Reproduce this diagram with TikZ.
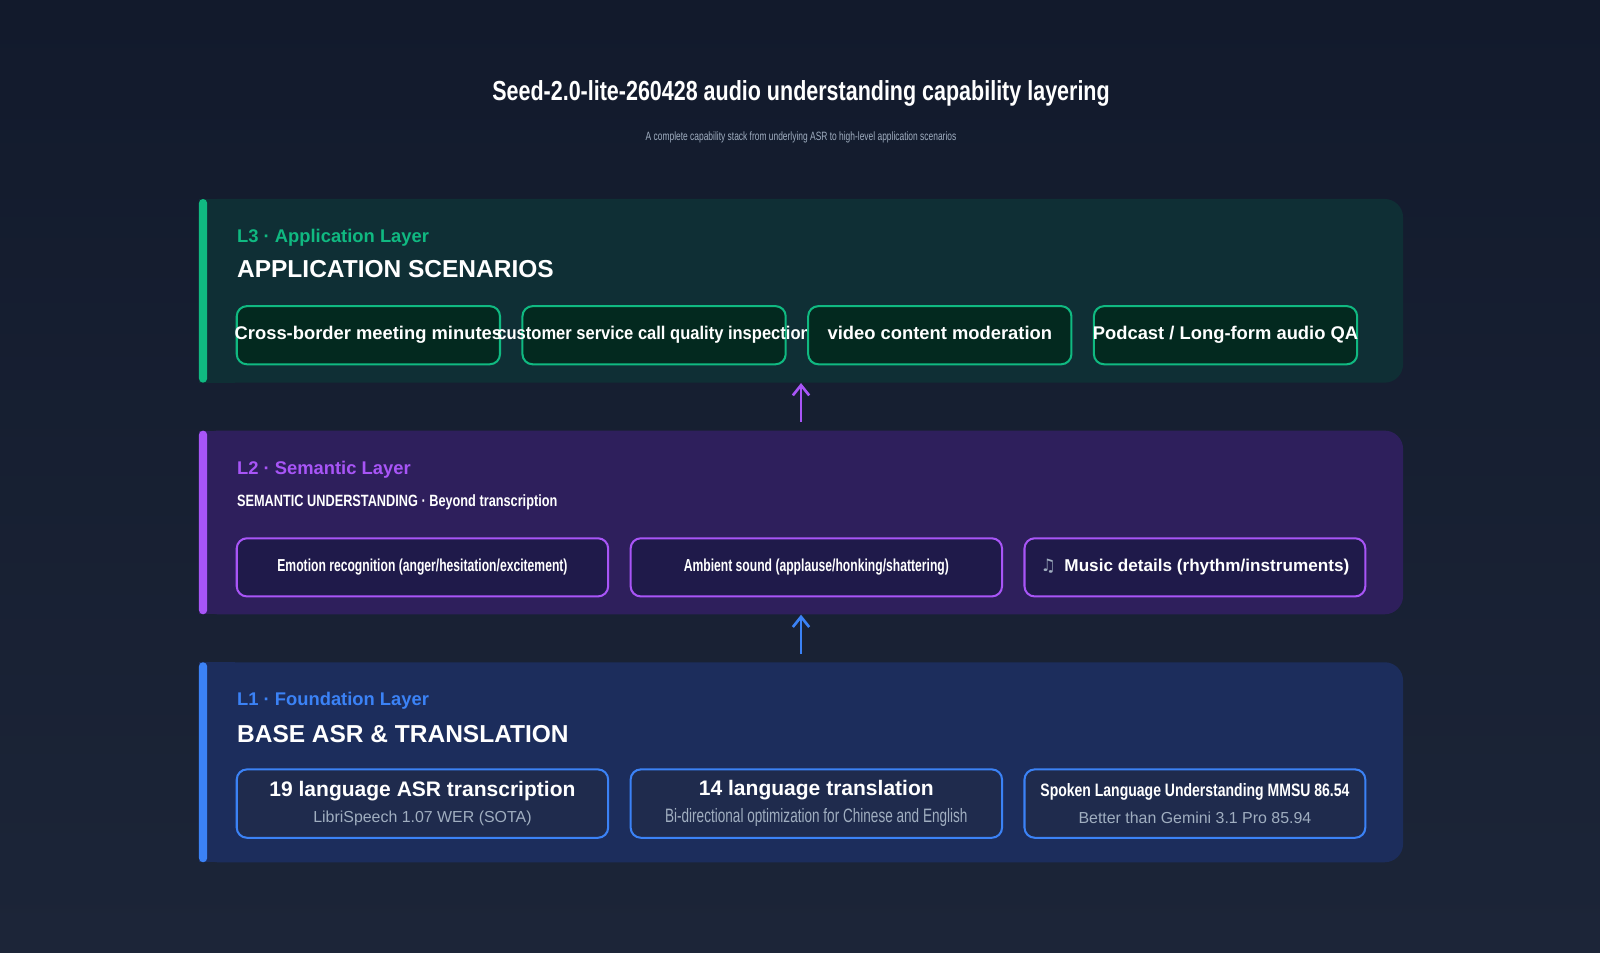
\documentclass[tikz,border=0pt]{standalone}
\usepackage{fontspec}
\setmainfont{Liberation Sans}
\newfontfamily\narrowfont[FakeStretch=0.78]{Liberation Sans}
\newfontfamily\tightfont[FakeStretch=0.70]{Liberation Sans}
\newfontfamily\slimfont[FakeStretch=0.90]{Liberation Sans}
\newfontfamily\symfont{DejaVu Sans}
\usetikzlibrary{positioning,arrows.meta}

\definecolor{bgA}{HTML}{121A2C}
\definecolor{bgB}{HTML}{1C2538}
\definecolor{appgreen}{HTML}{10B981}
\definecolor{sempurple}{HTML}{A855F7}
\definecolor{basblue}{HTML}{3B82F6}
\definecolor{appfill}{HTML}{0F2F35}
\definecolor{semfill}{HTML}{2E1F5C}
\definecolor{basfill}{HTML}{1C2D5C}
\definecolor{appbox}{HTML}{03291F}
\definecolor{sembox}{HTML}{1F1A4A}
\definecolor{basbox}{HTML}{1F2B4D}
\definecolor{subgray}{HTML}{A0AEC0}

\tikzset{
  panel/.style={rounded corners=9pt, minimum width=590pt, inner sep=0pt},
  tag/.style={anchor=west, inner sep=0pt, font=\bfseries\fontsize{9pt}{10pt}\selectfont},
  head/.style={anchor=west, inner sep=0pt, text=white},
  card/.style={rounded corners=5pt, line width=1pt, inner sep=0pt, text=white, align=center},
  upline/.style={line width=1.3pt, shorten <=4pt, -{Straight Barb[length=5pt,width=8pt]}}
}

\begin{document}
\begin{tikzpicture}[x=0.5pt,y=-0.5pt]
  \shade[top color=bgA, bottom color=bgB] (0,0) rectangle (1568,933);
  \useasboundingbox (0,0) rectangle (1568,933);

  % title
  \node[text=white, font=\narrowfont\bfseries\fontsize{13.5pt}{15pt}\selectfont] (title) at (785,92) {Seed-2.0-lite-260428 audio understanding capability layering};
  \node[text=subgray, font=\tightfont\fontsize{5.9pt}{6pt}\selectfont] (subtitle) at (785,135) {A complete capability stack from underlying ASR to high-level application scenarios};

  % L3 application layer
  \node[panel, fill=appfill, minimum height=90pt] (l3) at (785,285) {};
  \fill[appfill] (195,195) rectangle (230,375);
  \fill[appgreen, rounded corners=2pt] (195,195) rectangle (203,375);
  \node[tag, text=appgreen] (l3tag) at (232,233) {L3 · Application Layer};
  \node[head, font=\bfseries\fontsize{12pt}{13pt}\selectfont] (l3head) at (232,264) {APPLICATION SCENARIOS};
  \foreach \x/\t [count=\i] in {361/{Cross-border meeting minutes}, 641/{\slimfont customer service call quality inspection}, 921/{video content moderation}, 1201/{Podcast / Long-form audio QA}}
    \node[card, draw=appgreen, fill=appbox, minimum width=129pt, minimum height=28.5pt, font=\bfseries\fontsize{9pt}{10pt}\selectfont] (app\i) at (\x,328.5) {\makebox[0pt]{\strut\t}};

  % L2 semantic layer
  \node[panel, fill=semfill, minimum height=90pt] (l2) at (785,512) {};
  \fill[semfill] (195,422) rectangle (230,602);
  \fill[sempurple, rounded corners=2pt] (195,422) rectangle (203,602);
  \node[tag, text=sempurple] (l2tag) at (232,460) {L2 · Semantic Layer};
  \node[head, font=\narrowfont\bfseries\fontsize{8pt}{9pt}\selectfont] (l2head) at (232,492) {SEMANTIC UNDERSTANDING · Beyond transcription};
  \node[card, draw=sempurple, fill=sembox, minimum width=182pt, minimum height=28.5pt, font=\tightfont\bfseries\fontsize{8.5pt}{9pt}\selectfont] (sem1) at (414,556) {Emotion recognition (anger/hesitation/excitement)};
  \node[card, draw=sempurple, fill=sembox, minimum width=182pt, minimum height=28.5pt, font=\tightfont\bfseries\fontsize{8.5pt}{9pt}\selectfont] (sem2) at (800,556) {Ambient sound (applause/honking/shattering)};
  \node[card, draw=sempurple, fill=sembox, minimum width=167pt, minimum height=28.5pt, font=\bfseries\fontsize{8.4pt}{9pt}\selectfont] (sem3) at (1171,556) {{\symfont\color{subgray}♫}\enspace Music details (rhythm/instruments)};

  % L1 foundation layer
  \node[panel, fill=basfill, minimum height=98pt] (l1) at (785,747) {};
  \fill[basfill] (195,649) rectangle (230,845);
  \fill[basblue, rounded corners=2pt] (195,649) rectangle (203,845);
  \node[tag, text=basblue] (l1tag) at (232,687) {L1 · Foundation Layer};
  \node[head, font=\bfseries\fontsize{12pt}{13pt}\selectfont] (l1head) at (232,719) {BASE ASR \& TRANSLATION};
  \node[card, draw=basblue, fill=basbox, minimum width=182pt, minimum height=33.5pt] (bas1) at (414,787.5)
    {{\bfseries\fontsize{10.3pt}{11pt}\selectfont 19 language ASR transcription}\\[1pt]{\color{subgray}\fontsize{7.8pt}{9pt}\selectfont LibriSpeech 1.07 WER (SOTA)}};
  \node[card, draw=basblue, fill=basbox, minimum width=182pt, minimum height=33.5pt] (bas2) at (800,787.5)
    {{\bfseries\fontsize{10.3pt}{11pt}\selectfont 14 language translation}\\[1pt]{\color{subgray}\tightfont\fontsize{9.5pt}{10pt}\selectfont Bi-directional optimization for Chinese and English}};
  \node[card, draw=basblue, fill=basbox, minimum width=167pt, minimum height=33.5pt] (bas3) at (1171,787.5)
    {{\narrowfont\bfseries\fontsize{8.8pt}{11pt}\selectfont Spoken Language Understanding MMSU 86.54}\\[1pt]{\color{subgray}\fontsize{7.8pt}{9pt}\selectfont Better than Gemini 3.1 Pro 85.94}};

  % connectors between layers
  \draw[upline, sempurple] (l2.north) -- (l3.south);
  \draw[upline, basblue] (l1.north) -- (l2.south);
\end{tikzpicture}
\end{document}
